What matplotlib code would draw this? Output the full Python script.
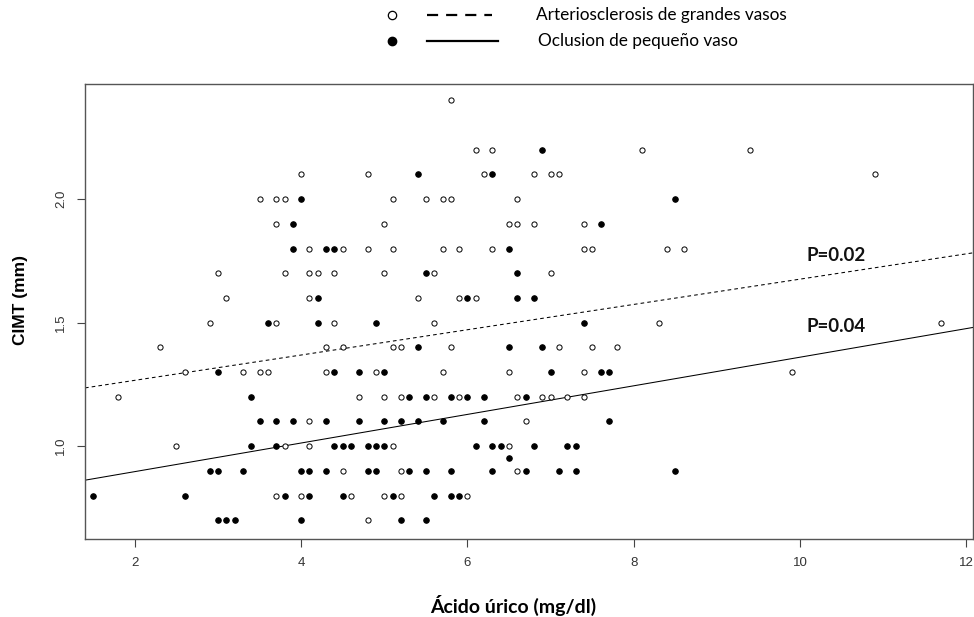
import matplotlib
matplotlib.use("Agg")
import matplotlib.pyplot as plt
from matplotlib.lines import Line2D

W, H, DPI = 974, 617, 100

# Arteriosclerosis de grandes vasos (open circles)
open_x = [5.8,
          6.1, 6.3, 8.1, 9.4,
          4.0, 4.8, 6.2, 6.8, 7.0, 7.1, 10.9,
          3.5, 3.7, 3.8, 5.1, 5.5, 5.7, 5.8, 6.6,
          3.7, 5.0, 6.5, 6.6, 6.8, 7.4,
          4.1, 4.5, 4.8, 5.1, 5.7, 5.9, 6.3, 7.4, 7.5, 8.4, 8.6,
          3.0, 3.8, 4.1, 4.2, 4.4, 5.0, 5.6, 7.0,
          3.1, 4.1, 5.4, 5.9, 6.1,
          2.9, 3.7, 4.4, 5.6, 8.3, 11.7,
          2.3, 4.3, 4.5, 5.1, 5.2, 5.8, 7.1, 7.5, 7.8,
          2.6, 3.3, 3.5, 3.6, 4.3, 4.9, 5.7, 6.5, 7.4, 9.9,
          1.8, 4.7, 5.0, 5.2, 5.6, 5.9, 6.6, 6.9, 7.0, 7.2, 7.4,
          4.1, 6.7,
          2.5, 3.8, 4.1, 5.1, 6.5,
          4.5, 5.2, 6.6,
          3.7, 4.0, 4.6, 5.0, 5.2, 6.0,
          4.8]
open_y = ([2.4] + [2.2] * 4 + [2.1] * 7 + [2.0] * 8 + [1.9] * 6 + [1.8] * 11
          + [1.7] * 8 + [1.6] * 5 + [1.5] * 6 + [1.4] * 9 + [1.3] * 10
          + [1.2] * 11 + [1.1] * 2 + [1.0] * 5 + [0.9] * 3 + [0.8] * 6 + [0.7])

# Oclusion de pequeño vaso (filled circles)
fill_x = [6.9,
          5.4, 6.3,
          4.0, 8.5,
          3.9, 7.6,
          3.9, 4.3, 4.4, 6.5,
          5.5, 6.6,
          4.2, 6.0, 6.6, 6.8,
          3.6, 4.2, 4.9, 7.4,
          5.4, 6.5, 6.9,
          3.0, 4.4, 4.7, 5.0, 7.0, 7.6, 7.7,
          3.4, 5.3, 5.5, 5.8, 6.0, 6.2, 6.7,
          3.5, 3.7, 3.9, 4.3, 4.7, 5.0, 5.2, 5.4, 5.7, 6.2, 7.7,
          3.4, 3.7, 4.4, 4.5, 4.6, 4.8, 4.9, 5.0, 6.1, 6.3, 6.4, 6.8, 7.2, 7.3,
          6.5,
          2.9, 3.0, 3.3, 4.0, 4.1, 4.3, 4.8, 4.9, 5.3, 5.5, 5.8, 6.3, 6.7, 7.1, 7.3, 8.5,
          1.5, 2.6, 3.8, 4.1, 4.5, 5.1, 5.6, 5.8, 5.9,
          3.0, 3.1, 3.2, 4.0, 5.2, 5.5]
fill_y = ([2.2] + [2.1] * 2 + [2.0] * 2 + [1.9] * 2 + [1.8] * 4 + [1.7] * 2
          + [1.6] * 4 + [1.5] * 4 + [1.4] * 3 + [1.3] * 7 + [1.2] * 7
          + [1.1] * 11 + [1.0] * 14 + [0.95] + [0.9] * 16 + [0.8] * 9 + [0.7] * 6)

# regression lines (intercept, slope) as drawn in the figure
fit_open = (1.164, 0.0512)
fit_fill = (0.781, 0.0579)
p_labels = ["P=0.02", "P=0.04"]
legend_labels = ["Arteriosclerosis de grandes vasos", "Oclusion de pequeño vaso"]

fig = plt.figure(figsize=(W / DPI, H / DPI), dpi=DPI, facecolor="white")
ax = fig.add_axes([85 / W, 1 - 538.5 / H, (973 - 85) / W, (538.5 - 83.5) / H])
ax.set_xlim(1.40, 12.08)
ax.set_ylim(0.626, 2.468)

ax.scatter(open_x, open_y, s=14, facecolors="white", edgecolors="black",
           linewidths=0.7, zorder=3)
ax.scatter(fill_x, fill_y, s=16, facecolors="black", edgecolors="black",
           linewidths=0.7, zorder=3)

xx = [1.40, 12.08]
ax.plot(xx, [fit_open[0] + fit_open[1] * v for v in xx], color="black",
        lw=0.75, ls=(0, (3.5, 3)), zorder=2)
ax.plot(xx, [fit_fill[0] + fit_fill[1] * v for v in xx], color="black",
        lw=0.75, zorder=2)

ax.text(10.08, 1.773, p_labels[0], fontsize=13.5, fontweight="bold",
        family="Lato", va="center", ha="left", color="#111111")
ax.text(10.08, 1.486, p_labels[1], fontsize=13.5, fontweight="bold",
        family="Lato", va="center", ha="left", color="#111111")

ax.set_xticks([2, 4, 6, 8, 10, 12])
ax.set_yticks([1.0, 1.5, 2.0])
ax.set_yticklabels(["1.0", "1.5", "2.0"], rotation=90, va="center")
ax.tick_params(length=6, width=0.8, color="#444444", labelsize=9.5,
               labelcolor="#333333", pad=7)
for lab in ax.get_xticklabels() + ax.get_yticklabels():
    lab.set_family("Liberation Sans")
for sp in ax.spines.values():
    sp.set_color("#555555")
    sp.set_linewidth(1.0)

fig.text(21 / W, 1 - 300 / H, "CIMT (mm)", rotation=90, ha="center",
         va="center", fontsize=12.5, fontweight="bold", family="Liberation Sans")
fig.text(513 / W, 1 - 605 / H, "Ácido úrico (mg/dl)", ha="center",
         va="center", fontsize=14, fontweight="bold", family="Lato")

# legend above the plot
tf = fig.transFigure
fig.add_artist(Line2D([391.7 / W], [1 - 15 / H], transform=tf, marker="o",
                      ms=6, mfc="white", mec="black", mew=0.9, ls="none"))
fig.add_artist(Line2D([391.7 / W], [1 - 41 / H], transform=tf, marker="o",
                      ms=6, mfc="black", mec="black", ls="none"))
fig.add_artist(Line2D([427 / W, 492 / W], [1 - 15 / H] * 2, transform=tf,
                      color="black", lw=1.6, ls=(0, (5, 3.6))))
fig.add_artist(Line2D([427 / W, 498 / W], [1 - 41 / H] * 2, transform=tf,
                      color="black", lw=1.6))
fig.text(535.5 / W, 1 - 15 / H, legend_labels[0], ha="left", va="center",
         fontsize=12.4, family="Lato")
fig.text(538 / W, 1 - 41 / H, legend_labels[1], ha="left", va="center",
         fontsize=12.4, family="Lato")

fig.savefig("out.png", dpi=DPI, facecolor="white")
